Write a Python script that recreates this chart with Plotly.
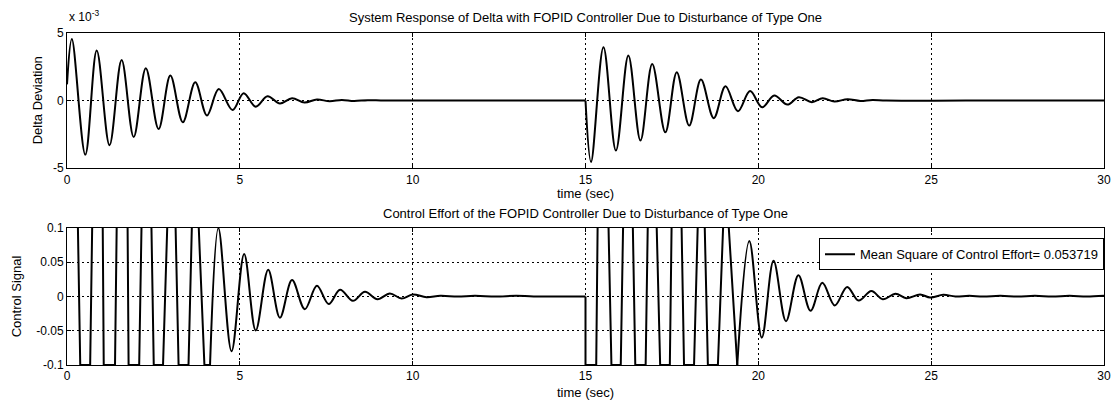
import plotly.graph_objects as go
from plotly.subplots import make_subplots

# delta deviation, first disturbance (t = 0 s) - peaks
delta_t1 = [0, 0.14, 0.53, 0.86, 1.23, 1.58, 1.93, 2.28, 2.65, 2.99, 3.35, 3.71, 4.05, 4.39,
            4.79, 5.11, 5.46, 5.80, 6.16, 6.51, 6.87, 7.23, 7.60, 7.95, 8.30, 8.70, 9.20, 12.0, 15.0]
delta_v1 = [1.2e-3, 4.55e-3, -4.0e-3, 3.7e-3, -3.3e-3, 3.0e-3, -2.7e-3, 2.4e-3, -2.1e-3, 1.85e-3,
            -1.6e-3, 1.35e-3, -1.1e-3, 0.85e-3, -0.7e-3, 0.55e-3, -0.45e-3, 0.32e-3, -0.22e-3,
            0.17e-3, -0.15e-3, 0.08e-3, -0.05e-3, 0.05e-3, -0.03e-3, 0.03e-3, 0, 0, 0]

# delta deviation, second disturbance (t = 15 s)
delta_t2 = [15.0, 15.16, 15.52, 15.88, 16.24, 16.59, 16.93, 17.31, 17.64, 18.0, 18.34, 18.71, 19.05,
            19.41, 19.76, 20.11, 20.46, 20.84, 21.17, 21.55, 21.86, 22.2, 22.58, 22.95, 23.3, 23.7,
            26.0, 30.0]
delta_v2 = [0, -4.55e-3, 3.95e-3, -3.7e-3, 3.33e-3, -2.96e-3, 2.7e-3, -2.35e-3, 2.1e-3, -1.85e-3,
            1.55e-3, -1.3e-3, 1.05e-3, -0.8e-3, 0.7e-3, -0.5e-3, 0.37e-3, -0.3e-3, 0.25e-3,
            -0.12e-3, 0.17e-3, -0.07e-3, 0.1e-3, -0.03e-3, 0.05e-3, 0, 0, 0]

# control signal, saturated part after first disturbance
u_t1 = [0, 0.316, 0.383, 0.67, 0.728, 0.88, 1.034, 1.063, 1.389, 1.437, 1.6, 1.753, 1.782, 2.088,
        2.155, 2.3, 2.443, 2.51, 2.778, 2.893, 3.02, 3.142, 3.228, 3.515, 3.611, 3.71, 3.812,
        3.975, 4.138]
u_v1 = [0.5, 0.1, -0.1, -0.1, 0.1, 0.5, 0.1, -0.1, -0.1, 0.1, 0.5, 0.1, -0.1, -0.1,
        0.1, 0.4, 0.1, -0.1, -0.1, 0.1, 0.3, 0.1, -0.1, -0.1, 0.1, 0.2, 0.1,
        -0.1, -0.1]

# control signal, decaying part after first disturbance
u_t2 = [4.138, 4.38, 4.76, 5.125, 5.46, 5.82, 6.16, 6.51, 6.88, 7.23, 7.57, 7.90, 8.27, 8.62,
        8.98, 9.34, 9.68, 10.0, 10.4, 10.8, 11.3, 11.8, 12.4, 13.0, 13.5, 15.0]
u_v2 = [-0.1, 0.1, -0.08, 0.062, -0.0495, 0.039, -0.031, 0.024, -0.0186, 0.0157, -0.011, 0.0098,
        -0.0064, 0.0069, -0.004, 0.0044, -0.003, 0.003, -0.001, 0.001, 0, 0.001, 0, 0.001, 0, 0]

# control signal, saturated part after second disturbance
u_t3 = [15.0, 15.0, 15.31, 15.35, 15.5, 15.67, 15.75, 16.02, 16.08, 16.22, 16.37, 16.44, 16.74,
        16.80, 16.93, 17.06, 17.16, 17.44, 17.49, 17.63, 17.78, 17.85, 18.14, 18.24, 18.35,
        18.45, 18.54, 18.83, 18.98, 19.06, 19.14, 19.39]
u_v3 = [0, -0.1, -0.1, 0.1, 0.5, 0.1, -0.1, -0.1, 0.1, 0.5, 0.1, -0.1, -0.1,
        0.1, 0.45, 0.1, -0.1, -0.1, 0.1, 0.4, 0.1, -0.1, -0.1, 0.1, 0.3,
        0.1, -0.1, -0.1, 0.1, 0.17, 0.1, -0.1]

# control signal, decaying part after second disturbance
u_t4 = [19.39, 19.74, 20.10, 20.44, 20.80, 21.16, 21.51, 21.85, 22.21, 22.57, 22.90, 23.27, 23.6,
        23.97, 24.28, 24.68, 24.97, 25.35, 25.7, 26.1, 26.5, 27.0, 27.5, 28.0, 28.5, 29.0, 29.5, 30.0]
u_v4 = [-0.1, 0.081, -0.060, 0.052, -0.036, 0.031, -0.021, 0.020, -0.013, 0.014, -0.006, 0.008,
        -0.004, 0.004, -0.0025, 0.003, -0.0015, 0.0025, 0, 0.001, 0, 0.001, 0, 0.001, 0, 0.001,
        0, 0.001]

legend_name = "Mean Square of Control Effort= 0.053719"

FONT = "Liberation Sans, Arial, Helvetica, sans-serif"

fig = make_subplots(rows=2, cols=1, vertical_spacing=0.18)

line = dict(color="black", width=2)
fig.add_trace(go.Scatter(x=delta_t1, y=delta_v1, mode="lines", line=dict(line, shape="spline"),
                         showlegend=False), row=1, col=1)
fig.add_trace(go.Scatter(x=delta_t2, y=delta_v2, mode="lines", line=dict(line, shape="spline"),
                         showlegend=False), row=1, col=1)
fig.add_trace(go.Scatter(x=u_t1, y=u_v1, mode="lines", line=line, name=legend_name,
                         legendgroup="u", showlegend=True), row=2, col=1)
fig.add_trace(go.Scatter(x=u_t2, y=u_v2, mode="lines", line=dict(line, shape="spline"),
                         legendgroup="u", showlegend=False), row=2, col=1)
fig.add_trace(go.Scatter(x=u_t3, y=u_v3, mode="lines", line=line,
                         legendgroup="u", showlegend=False), row=2, col=1)
fig.add_trace(go.Scatter(x=u_t4, y=u_v4, mode="lines", line=dict(line, shape="spline"),
                         legendgroup="u", showlegend=False), row=2, col=1)

axis_style = dict(showline=True, linecolor="black", linewidth=1, mirror="ticks",
                  ticks="inside", ticklen=4, tickcolor="black",
                  showgrid=True, gridcolor="black", gridwidth=1, griddash="2px,3px",
                  zeroline=False, tickfont=dict(size=12, color="black"))

fig.update_xaxes(axis_style, range=[0, 30], tickvals=[0, 5, 10, 15, 20, 25, 30])
fig.update_yaxes(axis_style)
fig.update_yaxes(range=[-0.005, 0.005], tickvals=[-0.005, 0, 0.005], ticktext=["-5", "0", "5"],
                 row=1, col=1)
fig.update_yaxes(range=[-0.1, 0.1], tickvals=[-0.1, -0.05, 0, 0.05, 0.1],
                 ticktext=["-0.1", "-0.05", "0", "0.05", "0.1"], row=2, col=1)
fig.update_layout(
    xaxis=dict(domain=[0, 1]), yaxis=dict(domain=[0.593, 1.0]),
    xaxis2=dict(domain=[0, 1]), yaxis2=dict(domain=[0.0, 0.4127]),
)

txt = dict(size=13, color="black")
notes = [
    ("System Response of Delta with FOPID Controller Due to Disturbance of Type One", 0.5, 1.048, 0),
    ("time (sec)", 0.5, 0.518, 0),
    ("Control Effort of the FOPID Controller Due to Disturbance of Type One", 0.5, 0.455, 0),
    ("time (sec)", 0.5, -0.084, 0),
    ("Delta Deviation", -0.0287, 0.798, -90),
    ("Control Signal", -0.0479, 0.208, -90),
]
for text, x, y, ang in notes:
    fig.add_annotation(text=text, x=x, y=y, xref="paper", yref="paper", showarrow=False,
                       textangle=ang, font=txt, xanchor="center", yanchor="middle")
fig.add_annotation(text="x 10<sup>-3</sup>", x=0.0, y=1.05, xref="paper", yref="paper",
                   showarrow=False, font=dict(size=12, color="black"),
                   xanchor="left", yanchor="middle")

# the page body adds an 8 px offset, so the figure is 8 px smaller than the window
fig.update_layout(
    width=1112, height=395,
    margin=dict(l=59, r=9, t=25, b=38),
    paper_bgcolor="white", plot_bgcolor="white",
    font=dict(family=FONT, size=12, color="black"),
    legend=dict(x=1.0, y=0.382, xanchor="right", yanchor="top",
                bgcolor="white", bordercolor="black", borderwidth=1,
                font=dict(size=13, color="black")),
)

fig.write_html("out.html")
